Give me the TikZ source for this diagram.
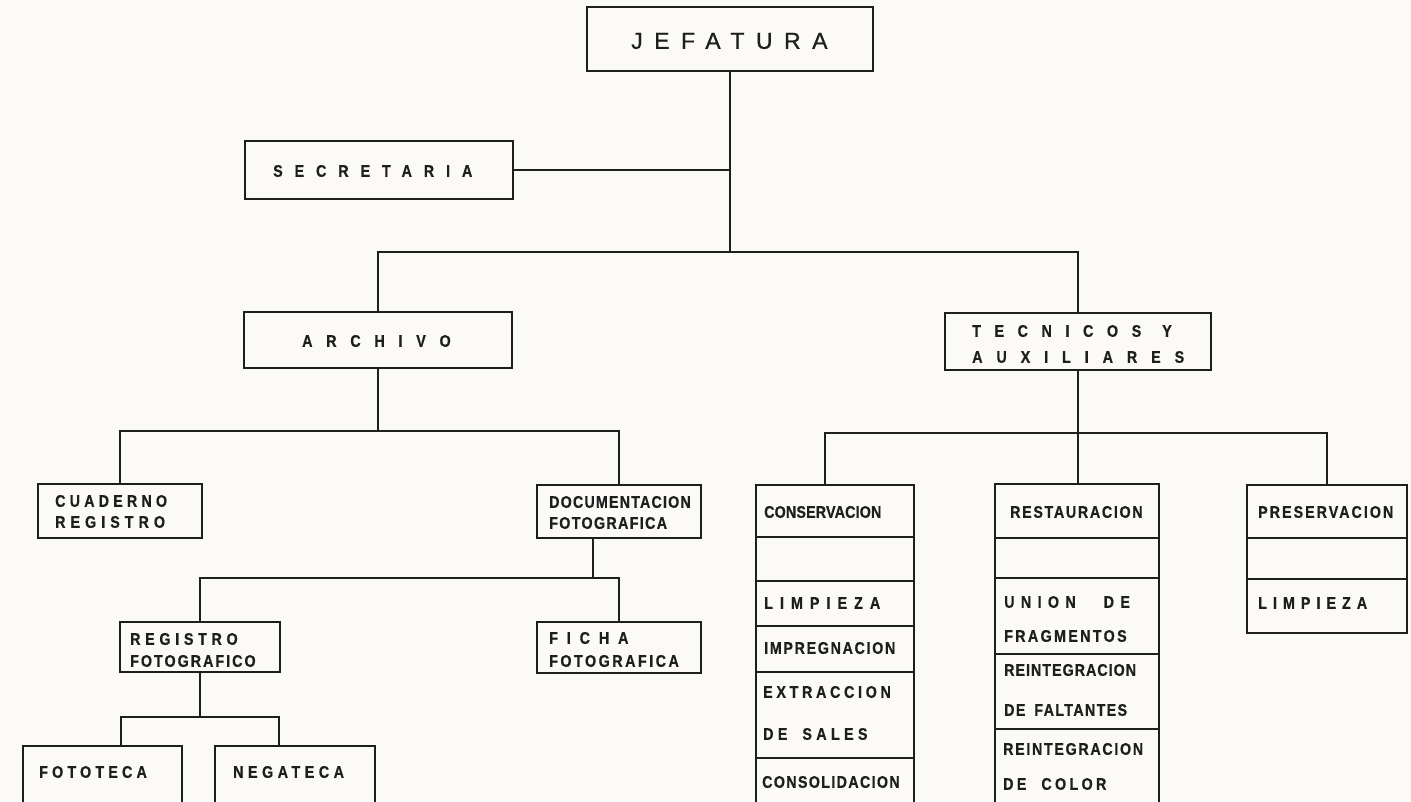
\documentclass[tikz,border=0pt]{standalone}
\usepackage{fontspec}
\newfontfamily\lblfont[FakeStretch=0.85, BoldFeatures={FakeBold=0.6}]{Liberation Sans}
\newfontfamily\jeffont[FakeBold=0.8]{Liberation Sans}
\newcommand\lsp[2]{{\addfontfeatures{LetterSpace=#1}#2}}
\definecolor{ink}{RGB}{30,30,30}
\definecolor{paper}{RGB}{251,250,246}
\tikzset{
  boxnode/.style 2 args={draw=ink, line width=2.8pt, inner sep=0pt, outer sep=0pt,
    anchor=north west, minimum width=#1pt, minimum height=#2pt},
  lbl/.style={font=\lblfont\bfseries\fontsize{16.8}{#1}\selectfont, text=ink,
    inner sep=0pt, anchor=west, align=left},
  lbl/.default=20,
  wire/.style={draw=ink, line width=2.8pt, line cap=rect, line join=miter},
}
\begin{document}
\begin{tikzpicture}[x=1pt, y=-1pt]
\useasboundingbox (0,0) rectangle (1411,801);
\fill[paper] (0,0) rectangle (1411,801);
\clip (0,0) rectangle (1411,801);

% ---- boxes ----
\node[boxnode={286}{64}] (jef) at (587,7) {};
\node[boxnode={268}{58}] (sec) at (245,141) {};
\node[boxnode={268}{56}] (arc) at (244,312) {};
\node[boxnode={266}{57}] (tec) at (945,313) {};
\node[boxnode={164}{54}] (cua) at (38,484) {};
\node[boxnode={164}{53}] (doc) at (537,485) {};
\node[boxnode={160}{50}] (reg) at (120,622) {};
\node[boxnode={164}{51}] (fic) at (537,622) {};
\node[boxnode={159}{70}] (fot) at (23,746) {};
\node[boxnode={160}{70}] (neg) at (215,746) {};

\node[boxnode={158}{52}] (con1) at (756,485) {};
\node[boxnode={158}{44}] (con2) at (756,537) {};
\node[boxnode={158}{45}] (con3) at (756,581) {};
\node[boxnode={158}{46}] (con4) at (756,626) {};
\node[boxnode={158}{86}] (con5) at (756,672) {};
\node[boxnode={158}{60}] (con6) at (756,758) {};

\node[boxnode={164}{54}] (res1) at (995,484) {};
\node[boxnode={164}{40}] (res2) at (995,538) {};
\node[boxnode={164}{76}] (res3) at (995,578) {};
\node[boxnode={164}{75}] (res4) at (995,654) {};
\node[boxnode={164}{85}] (res5) at (995,729) {};

\node[boxnode={160}{53}] (pre1) at (1247,485) {};
\node[boxnode={160}{41}] (pre2) at (1247,538) {};
\node[boxnode={160}{54}] (pre3) at (1247,579) {};

% ---- labels ----
\node[font=\jeffont\fontsize{23}{23}\selectfont, text=ink, inner sep=0pt, anchor=west]
  (jeft) at (631,41) {\lsp{50}{JEFATURA}};
\node[lbl] (sect) at (273,171) {\lsp{71}{SECRETARIA}};
\node[lbl] (arct) at (302,341) {\lsp{82}{ARCHIVO}};
\node[lbl=26] (tect) at (972,344) {\lsp{81}{TECNICOS\hspace{21pt}Y}\\\lsp{83}{AUXILIARES}};
\node[lbl=21] (cuat) at (55,511.5) {\lsp{25}{CUADERNO}\\\lsp{30}{REGISTRO}};
\node[lbl=21] (doct) at (549,512.5) {\lsp{7}{DOCUMENTACION}\\\lsp{8}{FOTOGRAFICA}};
\node[lbl=22] (regt) at (130,650) {\lsp{28}{REGISTRO}\\\lsp{12}{FOTOGRAFICO}};
\node[lbl=23] (fict) at (549,649.5) {\lsp{53}{FICHA}\\\lsp{15}{FOTOGRAFICA}};
\node[lbl] (fott) at (39,772) {\lsp{25}{FOTOTECA}};
\node[lbl] (negt) at (233,772) {\lsp{27}{NEGATECA}};

\node[lbl] (con1t) at (764,512) {\lsp{1}{CONSERVACION}};
\node[lbl] (con3t) at (764,603) {\lsp{42}{LIMPIEZA}};
\node[lbl] (con4t) at (764,648) {\lsp{10}{IMPREGNACION}};
\node[lbl=42] (con5t) at (763,713) {\lsp{22}{EXTRACCION}\\\lsp{26}{DE\hspace{15pt}SALES}};
\node[lbl] (con6t) at (762,782) {\lsp{8}{CONSOLIDACION}};

\node[lbl] (res1t) at (1010,512) {\lsp{10}{RESTAURACION}};
\node[lbl=34] (res3t) at (1004,619) {\lsp{38}{UNION\hspace{28pt}DE}\\\lsp{14}{FRAGMENTOS}};
\node[lbl=40] (res4t) at (1004,690) {\lsp{6}{REINTEGRACION}\\\lsp{8}{DE\hspace{9pt}FALTANTES}};
\node[lbl=35] (res5t) at (1003,766.5) {\lsp{10}{REINTEGRACION}\\\lsp{20}{DE\hspace{15pt}COLOR}};

\node[lbl] (pre1t) at (1258,512) {\lsp{12}{PRESERVACION}};
\node[lbl] (pre3t) at (1258,603) {\lsp{36}{LIMPIEZA}};

% ---- connectors ----
\coordinate (j1) at (730,252);
\draw[wire] (jef.south) -- (j1);
\draw[wire] (sec.east) -- (sec.east -| j1);
\draw[wire] (arc.north) |- (j1) -| (tec.north);

\coordinate (j2) at (378,431);
\draw[wire] (arc.south) -- (j2);
\draw[wire] (cua.north) |- (j2) -| (doc.north);

\coordinate (j3) at (593,578);
\draw[wire] (doc.south -| j3) -- (j3);
\draw[wire] (reg.north) |- (j3) -| (fic.north);

\coordinate (j4) at (200,717);
\coordinate (f1) at (121,717);
\coordinate (f2) at (279,717);
\draw[wire] (reg.south) -- (j4);
\draw[wire] (fot.north -| f1) -- (f1) -- (f2) -- (neg.north -| f2);

\coordinate (c1) at (825,433);
\draw[wire] (tec.south) -- (tec.south |- res1.north);
\draw[wire] (con1.north -| c1) -- (c1) -| (pre1.north);
\end{tikzpicture}
\end{document}
